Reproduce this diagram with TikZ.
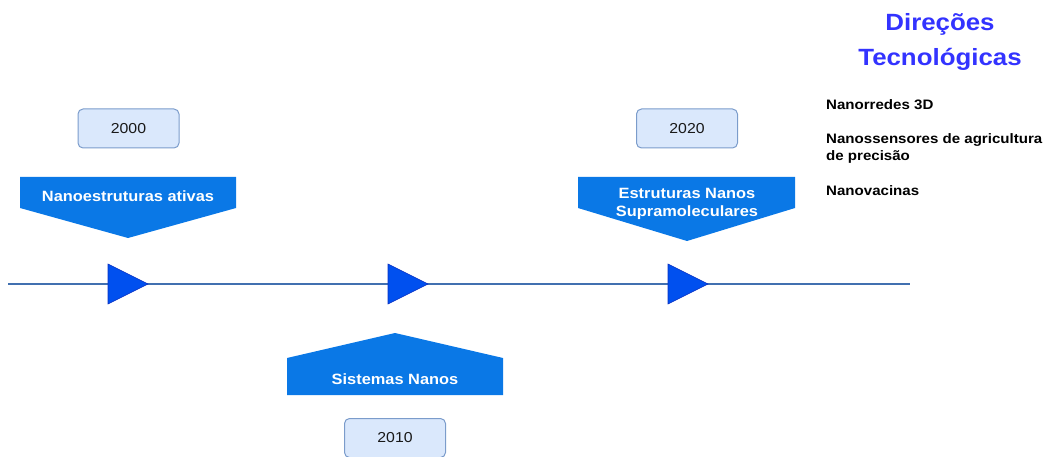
\documentclass[tikz,border=0pt]{standalone}
\usepackage{fontspec}
\setmainfont{Liberation Sans}[FakeStretch=1.1]
\usetikzlibrary{positioning}
\definecolor{yearfill}{HTML}{DAE8FC}
\definecolor{yearline}{HTML}{7B9CCB}
\definecolor{banner}{HTML}{0A78E6}
\definecolor{marker}{HTML}{0050EF}
\definecolor{markerline}{HTML}{0A2FC0}
\definecolor{axis}{HTML}{4170B0}
\definecolor{headline}{HTML}{3333FF}
\tikzset{
  yearbox/.style={draw=yearline, fill=yearfill, rounded corners=5pt, line width=1pt,
    minimum width=101pt, minimum height=39pt, inner sep=0pt,
    font=\fontsize{14.4}{17}\selectfont, text=black!90},
  bannertext/.style={text=white, font=\bfseries\fontsize{14.9}{18}\selectfont, align=center, inner sep=0pt},
  bannershape/.style={fill=banner},
  markershape/.style={fill=marker, draw=markerline, line width=0.6pt, line join=miter},
  axisline/.style={draw=axis, line width=2.4pt},
  itemtext/.style={anchor=base west, inner sep=0pt, font=\bfseries\fontsize{13.7}{17}\selectfont, align=left},
  titletext/.style={anchor=base, inner sep=0pt, text=headline, font=\bfseries\fontsize{23.5}{28}\selectfont}
}
\begin{document}
\begin{tikzpicture}[x=1pt, y=-1pt]
\useasboundingbox (0,0) rectangle (1049,457);

% timeline axis
\coordinate (axisstart) at (8,284);
\coordinate (axisend) at (910,284);
\draw[axisline] (axisstart) -- (axisend);

% markers on the axis
\foreach \mx in {108,388,668}
  \draw[markershape] (\mx,264) -- (\mx+40,284) -- (\mx,304) -- cycle;

% banners
\fill[bannershape] (20,177) -- (236,177) -- (236,208) -- (128,238) -- (20,208) -- cycle;
\node[bannertext] (b2000) at (128,196) {Nanoestruturas ativas};

\fill[bannershape] (578,177) -- (795,177) -- (795,208) -- (687,241) -- (578,208) -- cycle;
\node[bannertext] (b2020) at (687,204) {Estruturas Nanos\\Supramoleculares};

\fill[bannershape] (287,395) -- (503,395) -- (503,358) -- (395,333) -- (287,358) -- cycle;
\node[bannertext] (b2010) at (395,379) {Sistemas Nanos};

% year boxes
\node[yearbox] (y2000) at (128.5,128.5) {2000};
\node[yearbox] (y2020) at (687,128.5) {2020};
\node[yearbox] (y2010) at (395,438) {2010};

% technology directions
\node[titletext] (t1) at (940,31) {Direções};
\node[titletext] (t2) at (940,66) {Tecnológicas};
\node[itemtext] (i1) at (826,110) {Nanorredes 3D};
\node[itemtext] (i2) at (826,144) {Nanossensores de agricultura};
\node[itemtext] (i3) at (826,161) {de precisão};
\node[itemtext] (i4) at (826,196) {Nanovacinas};
\end{tikzpicture}
\end{document}
